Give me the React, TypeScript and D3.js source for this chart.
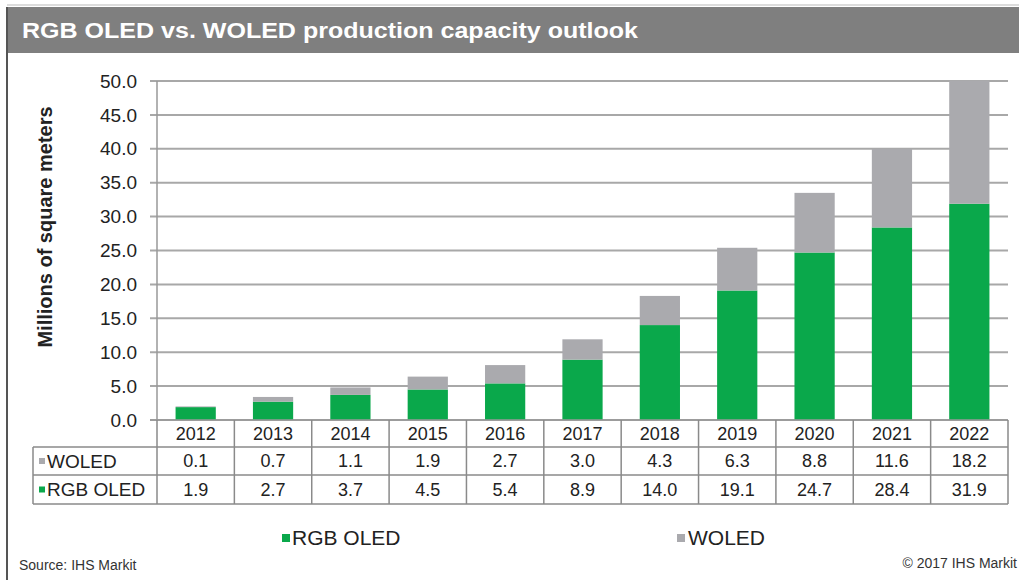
import React from "react";
import * as d3 from "d3";

// data
const years = ["2012", "2013", "2014", "2015", "2016", "2017", "2018", "2019", "2020", "2021", "2022"];
const rgbOled = [1.9, 2.7, 3.7, 4.5, 5.4, 8.9, 14.0, 19.1, 24.7, 28.4, 31.9];
const woled = [0.1, 0.7, 1.1, 1.9, 2.7, 3.0, 4.3, 6.3, 8.8, 11.6, 18.2];
const yTicks = [0, 5, 10, 15, 20, 25, 30, 35, 40, 45, 50];

const title = "RGB OLED vs. WOLED production capacity outlook";
const yTitle = "Millions of square meters";
const source = "Source: IHS Markit";
const copyright = "\u00a9 2017 IHS Markit";

const GREEN = "#0aa84b";
const GREY = "#aaaaae";
const FONT = "'Liberation Sans', Arial, sans-serif";

export default function App() {
  const w = 1019;
  const h = 580;
  const left = 157;
  const right = 1008;
  const top = 81;
  const bottom = 420;

  const x = d3.scaleBand().domain(years).range([left, right]).paddingInner(0.48).paddingOuter(0.24);
  const col = d3.scaleBand().domain(years).range([left, right]).padding(0);
  const y = d3.scaleLinear().domain([0, 50]).range([bottom, top]);

  const stack = d3
    .stack<any>()
    .keys(["rgb", "woled"])(years.map((yr, i) => ({ year: yr, rgb: rgbOled[i], woled: woled[i] })));
  const colors = [GREEN, GREY];

  const rowTop = [420, 447, 475, 504];
  const rows = [
    { name: "WOLED", color: GREY, values: woled },
    { name: "RGB OLED", color: GREEN, values: rgbOled },
  ];
  const lineCol = "#8a8a8a";

  return (
    <svg
      width={w}
      height={h}
      style={{ position: "absolute", left: 0, top: 0, background: "#fff" }}
      fontFamily={FONT}
    >
      {/* frame + title bar */}
      <line x1={7} x2={w} y1={5} y2={5} stroke="#d0d0d0" strokeWidth={1.5} />
      <rect x={7} y={7} width={w - 7} height={46} fill="#7f7f7f" />
      <line x1={7} x2={7} y1={7} y2={h} stroke="#555" strokeWidth={2} />
      <text x={22} y={38} fill="#fff" fontSize={22} fontWeight="bold" textLength={616} lengthAdjust="spacingAndGlyphs">
        {title}
      </text>

      {/* gridlines */}
      {yTicks.map((t) => (
        <line key={t} x1={150} x2={right} y1={y(t)} y2={y(t)} stroke="#a8a8a8" strokeWidth={2} />
      ))}
      {yTicks.map((t) => (
        <text key={"l" + t} x={137} y={y(t)} dy="0.35em" textAnchor="end" fontSize={19} fill="#222">
          {t.toFixed(1)}
        </text>
      ))}
      <line x1={left} x2={left} y1={top} y2={bottom} stroke="#999" strokeWidth={1.5} />
      <text
        transform={`translate(45, 227) rotate(-90)`}
        textAnchor="middle"
        dy="0.35em"
        fontSize={20}
        fontWeight="bold"
        fill="#222"
      >
        {yTitle}
      </text>

      {/* bars */}
      {stack.map((s, si) =>
        s.map((d, i) => (
          <rect
            key={si + "-" + i}
            x={x(years[i])}
            width={x.bandwidth()}
            y={y(d[1])}
            height={y(d[0]) - y(d[1])}
            fill={colors[si]}
          />
        ))
      )}

      {/* data table */}
      <line x1={150} x2={right} y1={rowTop[0]} y2={rowTop[0]} stroke="#999" strokeWidth={1.5} />
      {rowTop.slice(1).map((ry) => (
        <line key={ry} x1={33} x2={right} y1={ry} y2={ry} stroke={lineCol} strokeWidth={1.5} />
      ))}
      <line x1={33} x2={33} y1={rowTop[1]} y2={rowTop[3]} stroke={lineCol} strokeWidth={1.5} />
      {years.map((yr) => (
        <line key={"v" + yr} x1={col(yr)} x2={col(yr)} y1={rowTop[0]} y2={rowTop[3]} stroke={lineCol} strokeWidth={1.5} />
      ))}
      <line x1={right} x2={right} y1={rowTop[0]} y2={rowTop[3]} stroke={lineCol} strokeWidth={1.5} />
      {years.map((yr) => (
        <text key={"y" + yr} x={col(yr)! + col.bandwidth() / 2} y={434} dy="0.35em" textAnchor="middle" fontSize={18} fill="#222">
          {yr}
        </text>
      ))}
      {rows.map((r, ri) => {
        const cy = (rowTop[ri + 1] + rowTop[ri + 2]) / 2;
        return (
          <g key={r.name}>
            <rect x={39} y={cy - 3} width={6} height={6} fill={r.color} />
            <text x={47} y={cy} dy="0.35em" fontSize={19} fill="#222">
              {r.name}
            </text>
            {r.values.map((v, i) => (
              <text key={i} x={col(years[i])! + col.bandwidth() / 2} y={cy} dy="0.35em" textAnchor="middle" fontSize={18} fill="#222">
                {v.toFixed(1)}
              </text>
            ))}
          </g>
        );
      })}

      {/* legend */}
      <rect x={282} y={534} width={8} height={8} fill={GREEN} />
      <text x={292} y={538} dy="0.35em" fontSize={21} fill="#222">
        RGB OLED
      </text>
      <rect x={677} y={534} width={8} height={8} fill={GREY} />
      <text x={688} y={538} dy="0.35em" fontSize={21} fill="#222">
        WOLED
      </text>

      {/* footer */}
      <text x={19} y={565} dy="0.35em" fontSize={14} fill="#333">
        {source}
      </text>
      <text x={1017} y={563} dy="0.35em" textAnchor="end" fontSize={14} fill="#333">
        {copyright}
      </text>
    </svg>
  );
}
